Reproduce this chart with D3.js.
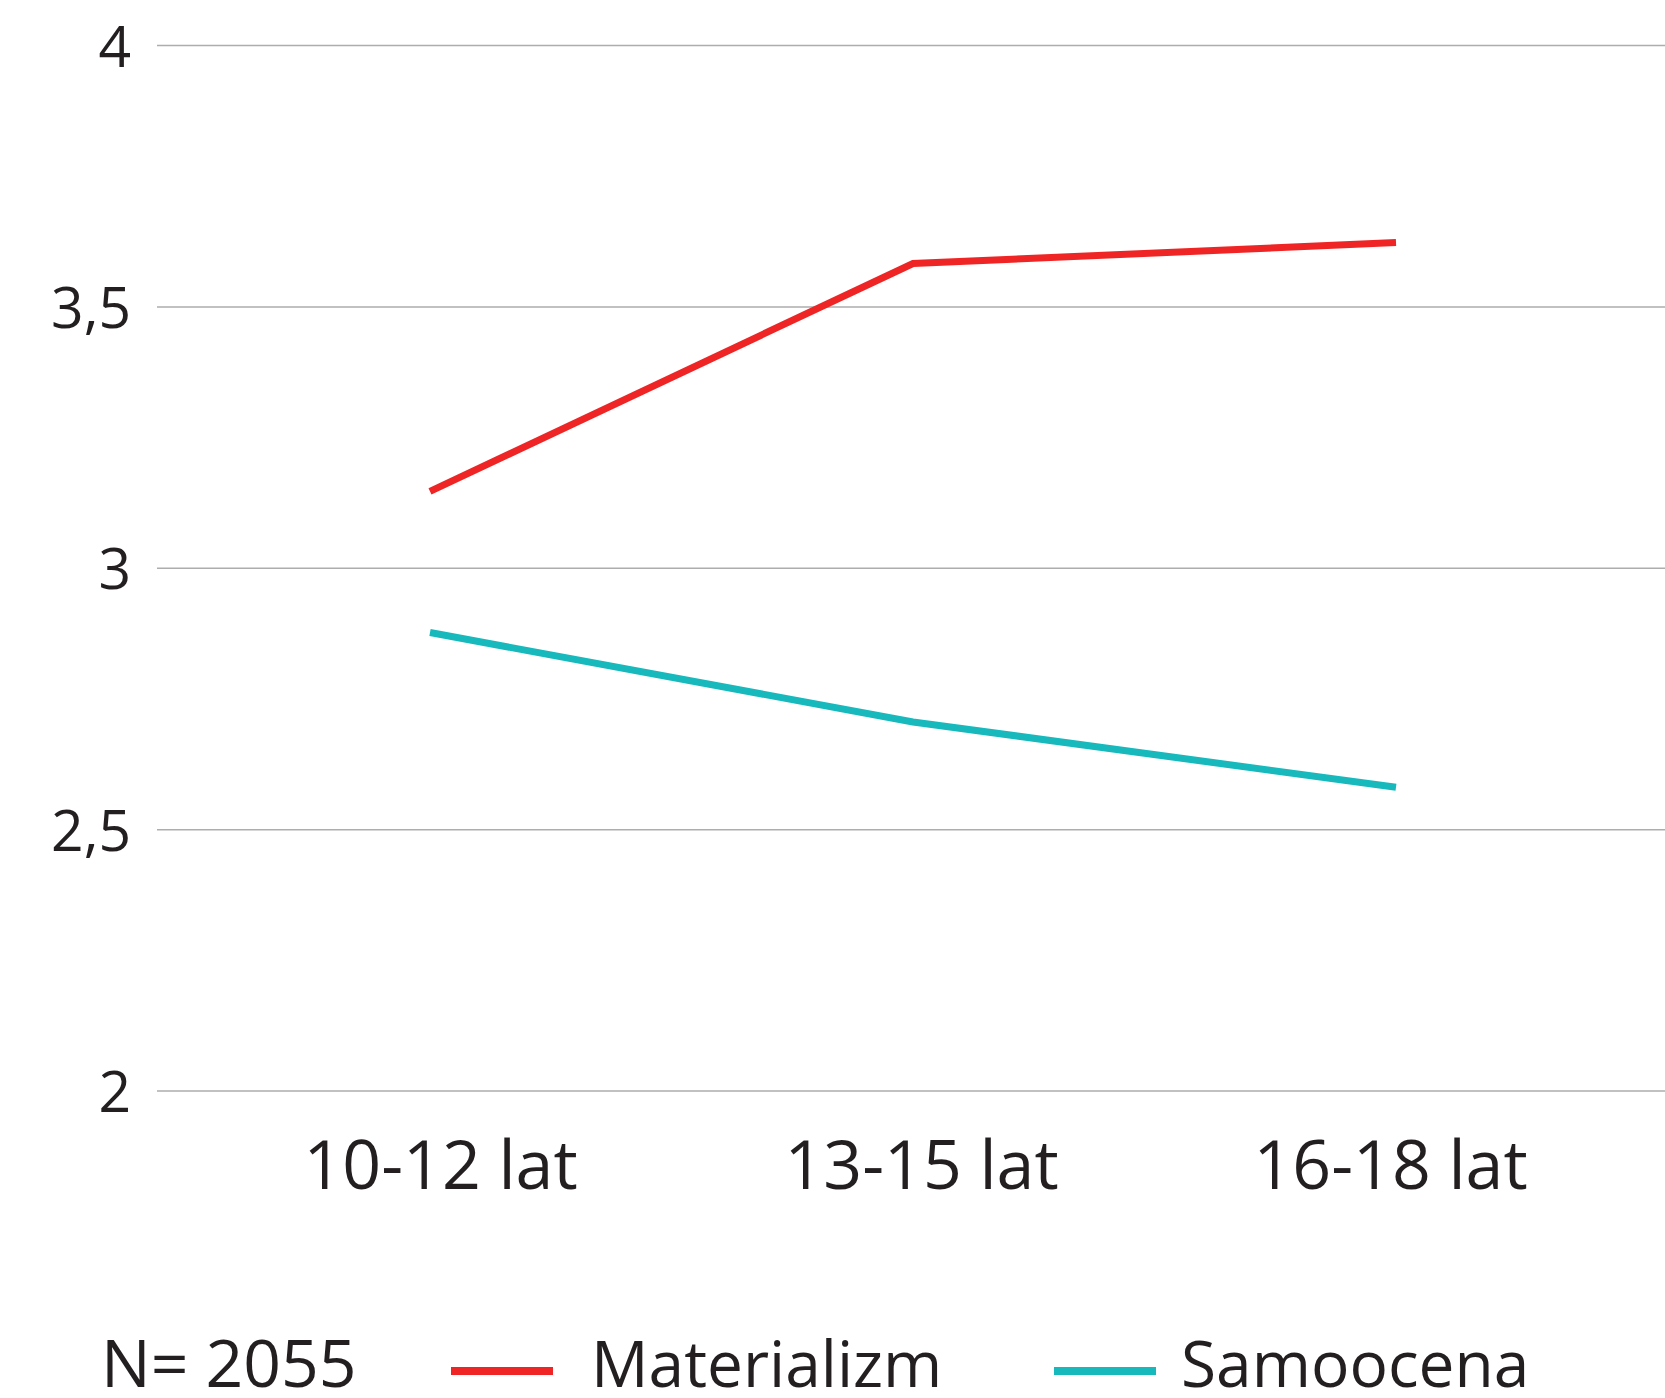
<!DOCTYPE html>
<html>
<head>
<meta charset="utf-8">
<script src="https://cdn.jsdelivr.net/npm/d3@7"></script>
<style>
    body { margin: 0; background: #fff; }
    svg text { font-family: "Open Sans", "Noto Sans", sans-serif; fill: #231f20; }
</style>
</head>
<body>
<svg id="chart" width="1665" height="1398"></svg>
<script>
// age groups on the x axis
const categories = ['10-12 lat', '13-15 lat', '16-18 lat'];
// mean scores
const materializm = [3.147, 3.583, 3.623];
const samoocena = [2.877, 2.706, 2.581];
const yTicks = [2, 2.5, 3, 3.5, 4];
const seriesNames = ['Materializm', 'Samoocena'];
const sampleLabel = 'N= 2055';

const svg = d3.select('#chart');

const x = d3.scalePoint()
    .domain(categories)
    .range([430, 1396]);

const y = d3.scaleLinear()
    .domain([2, 4])
    .range([1091, 45.5]);

const color = d3.scaleOrdinal()
    .domain(seriesNames)
    .range(['#ee2524', '#17b9bd']);

// horizontal gridlines
svg.append('g')
    .selectAll('line')
    .data(yTicks)
    .enter()
    .append('line')
    .attr('x1', 157)
    .attr('x2', 1665)
    .attr('y1', d => y(d))
    .attr('y2', d => y(d))
    .attr('stroke', '#adadad')
    .attr('stroke-width', 1.5);

// y axis labels
const yAxis = svg.append('g')
    .attr('transform', 'translate(131,0)')
    .call(d3.axisLeft(y).tickValues(yTicks).tickSize(0).tickPadding(0)
        .tickFormat(d => String(d).replace('.', ',')));
yAxis.select('.domain').remove();
yAxis.selectAll('text')
    .attr('font-size', 57)
    .attr('dy', '0.36em')
    .attr('text-anchor', 'end')
    .style('font-family', '"Open Sans", sans-serif')
    .attr('fill', '#231f20');

// x axis labels
const xAxis = svg.append('g')
    .attr('transform', 'translate(0,1189)')
    .call(d3.axisBottom(x).tickSize(0).tickPadding(0));
xAxis.select('.domain').remove();
xAxis.selectAll('text')
    .attr('font-size', 68)
    .attr('dy', 0)
    .attr('y', 0)
    .attr('x', (d, i) => [10, 8, -6][i])
    .style('font-family', '"Open Sans", sans-serif')
    .attr('fill', '#231f20');

// lines
const line = d3.line()
    .x((d, i) => x(categories[i]))
    .y(d => y(d));

const series = [
    { name: 'Materializm', values: materializm },
    { name: 'Samoocena', values: samoocena }
];

svg.append('g')
    .selectAll('path')
    .data(series)
    .enter()
    .append('path')
    .attr('d', d => line(d.values))
    .attr('fill', 'none')
    .attr('stroke', d => color(d.name))
    .attr('stroke-width', 7)
    .attr('stroke-linecap', 'butt')
    .attr('stroke-linejoin', 'miter');

// legend
const legend = svg.append('g');
legend.append('text')
    .attr('x', 101)
    .attr('y', 1387)
    .attr('font-size', 66)
    .text(sampleLabel);

const legendX = [451, 1054];
const legendItems = legend.selectAll('.legend-item')
    .data(seriesNames)
    .enter()
    .append('g')
    .attr('class', 'legend-item')
    .attr('transform', (d, i) => `translate(${legendX[i]},0)`);

legendItems.append('line')
    .attr('x1', 0)
    .attr('x2', 102)
    .attr('y1', 1371)
    .attr('y2', 1371)
    .attr('stroke', d => color(d))
    .attr('stroke-width', 8);

legendItems.append('text')
    .attr('x', (d, i) => [140, 127][i])
    .attr('y', 1387)
    .attr('font-size', 64)
    .text(d => d);
</script>
</body>
</html>
